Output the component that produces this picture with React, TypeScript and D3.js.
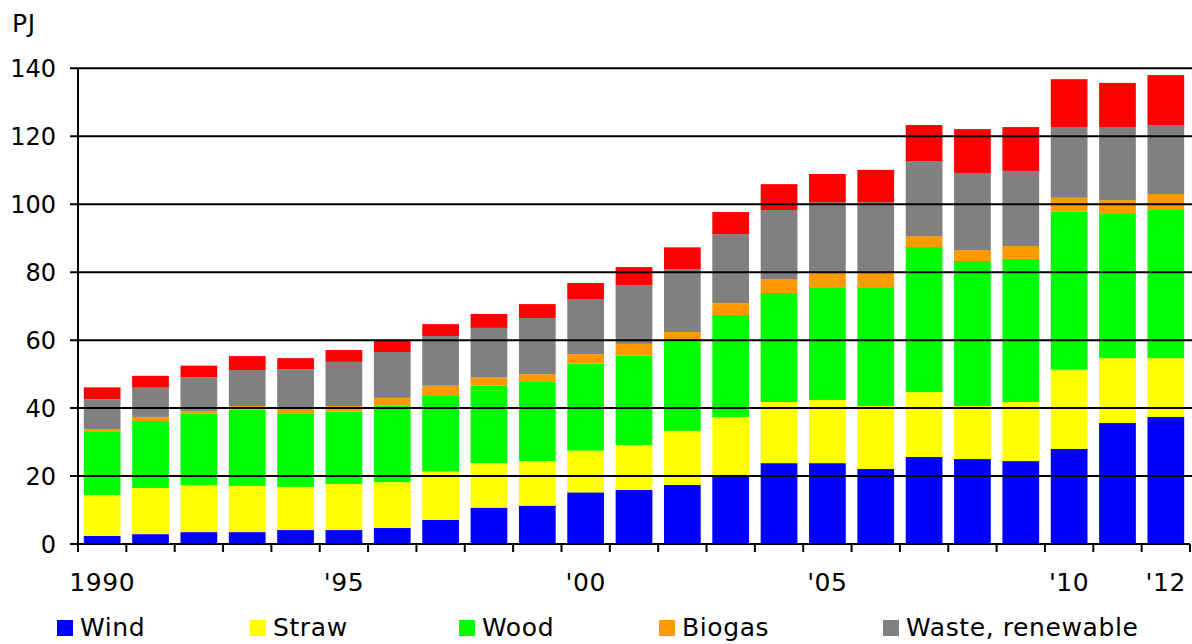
import React from "react";
import * as d3 from "d3";

const years = [1990,1991,1992,1993,1994,1995,1996,1997,1998,1999,2000,2001,2002,2003,2004,2005,2006,2007,2008,2009,2010,2011,2012];
const wind   = [2.4,2.9,3.5,3.5,4.1,4.1,4.7,7.1,10.7,11.3,15.2,15.9,17.4,19.8,23.8,23.8,22.1,25.6,25.0,24.4,28.0,35.6,37.4];
const straw  = [12.0,13.6,13.8,13.6,12.7,13.6,13.5,14.2,13.1,13.1,12.3,13.2,15.9,17.6,18.0,18.6,18.5,19.1,15.6,17.4,23.3,19.1,17.3];
const wood   = [18.8,19.7,21.2,22.5,21.7,21.3,22.5,22.5,22.8,23.3,25.6,26.3,26.2,30.0,32.1,33.2,35.0,42.7,42.7,42.1,46.5,42.4,43.6];
const biogas = [0.6,1.2,0.7,1.0,1.5,1.6,2.3,2.8,2.4,2.3,2.8,3.5,2.9,3.5,4.1,4.2,4.2,3.2,3.2,3.8,4.1,4.1,4.7];
const waste  = [8.8,8.6,9.8,10.6,11.4,13.0,13.5,14.6,14.6,16.5,16.2,17.3,18.5,20.3,20.3,20.8,20.8,22.1,22.7,22.1,20.8,21.5,20.3];
const other  = [3.5,3.5,3.5,4.1,3.3,3.5,3.5,3.5,4.1,4.1,4.7,5.3,6.4,6.5,7.6,8.3,9.5,10.6,12.9,12.9,14.1,13.0,14.7];

const seriesNames = ["Wind","Straw","Wood","Biogas","Waste, renewable","Other"];
const seriesColors = ["#0000FF","#FFFF00","#00FF00","#FF9900","#808080","#FF0000"];
const legendNames = ["Wind","Straw","Wood","Biogas","Waste, renewable"];
const yTicks = [0,20,40,60,80,100,120,140];
const xLabels: [number,string][] = [[1990,"1990"],[1995,"'95"],[2000,"'00"],[2005,"'05"],[2010,"'10"],[2012,"'12"]];

const W = 1192, H = 644;
const left = 78, right = 1190, top = 68.3, bottom = 544;
const FONT = "DejaVu Sans, Verdana, sans-serif";
const FS = 25;
const LS = 0.6;

export default function App() {
  const rows = years.map((y, i) => ({
    year: y,
    s0: wind[i], s1: straw[i], s2: wood[i], s3: biogas[i], s4: waste[i], s5: other[i],
  }));
  const keys = ["s0","s1","s2","s3","s4","s5"];
  const stacked = d3.stack<any>().keys(keys)(rows);
  const x = d3.scaleBand<number>().domain(years).range([left, right]).paddingInner(0.24).paddingOuter(0.12);
  const xb = d3.scaleBand<number>().domain(years).range([left, right]);
  const y = d3.scaleLinear().domain([0, 140]).range([bottom, top]);
  const legendX = [57, 250, 459, 659, 883];

  return (
    <svg width={W} height={H} style={{ position: "absolute", left: 0, top: 0 }} fontFamily={FONT}>
      <rect width={W} height={H} fill="#fff" />
      {stacked.map((layer, li) => (
        <g key={li} fill={seriesColors[li]}>
          {layer.map((d, i) => (
            <rect key={i} x={x(years[i])} width={x.bandwidth()} y={y(d[1])} height={y(d[0]) - y(d[1])} />
          ))}
        </g>
      ))}
      {yTicks.filter(t => t > 0).map(t => (
        <line key={t} x1={70} x2={W} y1={y(t)} y2={y(t)} stroke="#000" strokeWidth={2} />
      ))}
      <line x1={70} x2={right} y1={bottom} y2={bottom} stroke="#000" strokeWidth={2} />
      <line x1={left} x2={left} y1={top} y2={bottom + 8} stroke="#000" strokeWidth={2} />
      {years.map((yr) => (
        <line key={yr} x1={xb(yr)! + xb.bandwidth()} x2={xb(yr)! + xb.bandwidth()} y1={bottom} y2={bottom + 8} stroke="#000" strokeWidth={2} />
      ))}
      {yTicks.map(t => (
        <text key={t} x={56} y={y(t)} dy="0.36em" textAnchor="end" fontSize={24}>{t}</text>
      ))}
      <text x={12} y={32} fontSize={FS} letterSpacing={LS}>PJ</text>
      {xLabels.map(([yr, lab]) => (
        <text key={yr} x={xb(yr)! + xb.bandwidth() / 2} y={591} textAnchor="middle" fontSize={FS} letterSpacing={LS}>{lab}</text>
      ))}
      {legendNames.map((n, i) => (
        <g key={n}>
          <rect x={legendX[i]} y={620} width={16} height={16} fill={seriesColors[i]} />
          <text x={legendX[i] + 23} y={636} fontSize={FS} letterSpacing={LS}>{n}</text>
        </g>
      ))}
    </svg>
  );
}
